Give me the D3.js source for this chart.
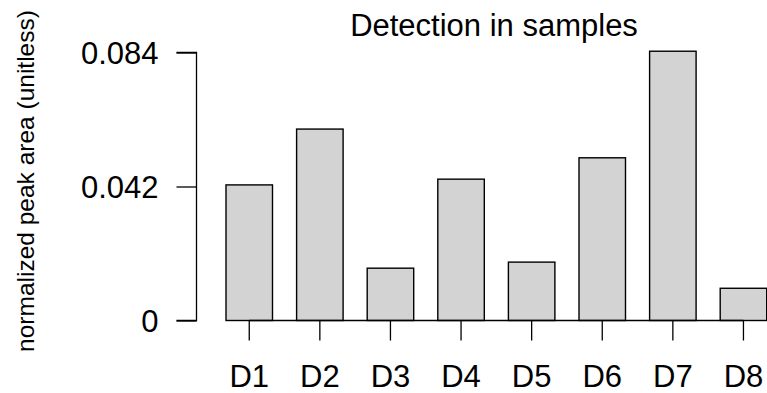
<!DOCTYPE html>
<html>
<head>
<meta charset="utf-8">
<script src="https://cdn.jsdelivr.net/npm/d3@7"></script>
<style>
  html, body { margin: 0; padding: 0; background: #fff; }
  svg { display: block; }
  text { font-family: "Liberation Sans", Arial, Helvetica, sans-serif; fill: #000; }
</style>
</head>
<body>
<svg id="chart" width="767" height="393"></svg>
<script>
const categories = ["D1", "D2", "D3", "D4", "D5", "D6", "D7", "D8"];
const values = [0.0425, 0.0600, 0.0164, 0.0443, 0.0183, 0.0510, 0.0844, 0.0101];
const yTicks = [0, 0.042, 0.084];
const yTickLabels = ["0", "0.042", "0.084"];
const title = "Detection in samples";
const yLabel = "normalized peak area (unitless)";

const svg = d3.select("#chart");

const y = d3.scaleLinear().domain([0, 0.084]).range([320.5, 52.5]);
const x = d3.scaleBand().domain(categories).range([190.7, 802.0]).paddingInner(0.3414).paddingOuter(0.5);

// bars
svg.append("g").selectAll("rect").data(values).join("rect")
  .attr("x", (d, i) => x(categories[i]))
  .attr("y", d => y(d))
  .attr("width", x.bandwidth())
  .attr("height", d => y(0) - y(d))
  .attr("fill", "#d3d3d3")
  .attr("stroke", "#000")
  .attr("stroke-width", 1.4);

// y axis
const yAxis = d3.axisLeft(y).tickValues(yTicks).tickFormat((d, i) => yTickLabels[i])
  .tickSize(20).tickPadding(18);
const gy = svg.append("g").attr("transform", "translate(196.5,0)").call(yAxis);
gy.select(".domain").attr("d", `M-20,${y(0.084)}H0V${y(0)}H-20`).attr("stroke", "#000").attr("stroke-width", 1.3);
gy.selectAll(".tick line").attr("stroke", "#000").attr("stroke-width", 1.3);
gy.selectAll(".tick text").attr("font-size", 31).attr("dy", "0.36em")
  .attr("font-family", "Liberation Sans, Arial, sans-serif").attr("fill", "#000");

// x axis
const xAxis = d3.axisBottom(x).tickSize(20).tickPadding(24);
const gx = svg.append("g").attr("transform", `translate(0,${y(0)})`).call(xAxis);
const c0 = x(categories[0]) + x.bandwidth() / 2;
const c1 = x(categories[categories.length - 1]) + x.bandwidth() / 2;
gx.select(".domain").attr("d", `M${c0},0H${c1}`).attr("stroke", "#000").attr("stroke-width", 1.3);
gx.selectAll(".tick line").attr("stroke", "#000").attr("stroke-width", 1.3);
gx.selectAll(".tick text").attr("font-size", 31)
  .attr("font-family", "Liberation Sans, Arial, sans-serif").attr("fill", "#000");

// title
svg.append("text").attr("x", 494).attr("y", 36).attr("text-anchor", "middle")
  .attr("font-size", 31).text(title);

// y label
svg.append("text").attr("transform", "translate(33.5,181) rotate(-90)").attr("text-anchor", "middle")
  .attr("font-size", 24.5).text(yLabel);
</script>
</body>
</html>
